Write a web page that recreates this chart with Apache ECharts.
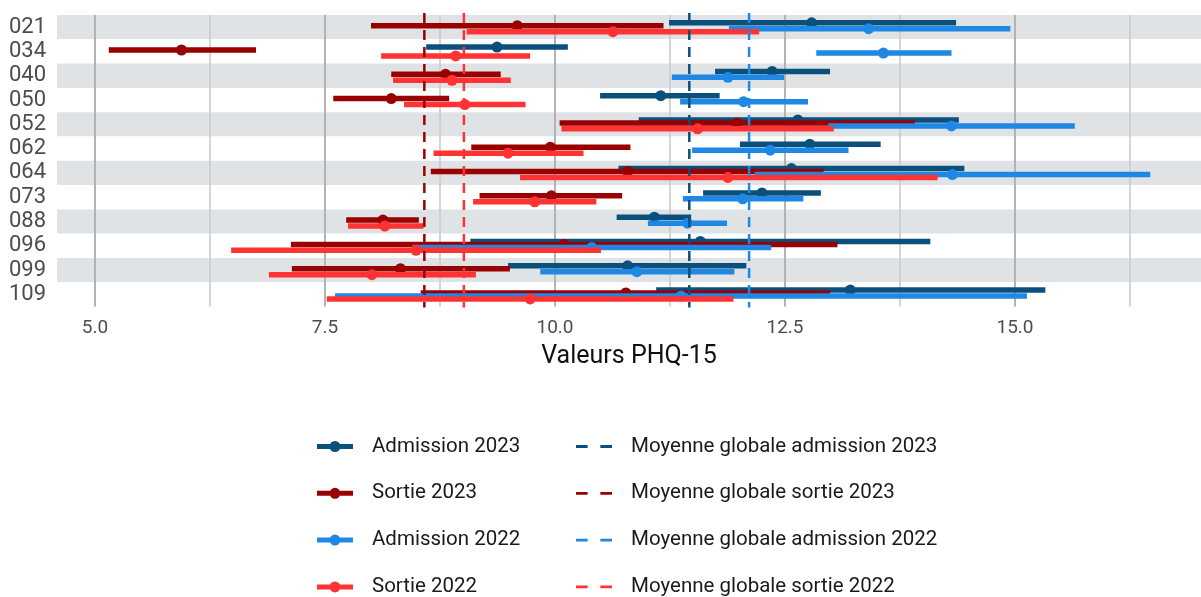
<!DOCTYPE html>
<html>
<head>
<meta charset="utf-8">
<script src="https://cdn.jsdelivr.net/npm/echarts@6/dist/echarts.min.js"></script>
<style>html,body{margin:0;padding:0;background:#fff}#c{width:1201px;height:597px}</style>
</head>
<body>
<div id="c"></div>
<script>
// ---- data ----
const categories = ['021','034','040','050','052','062','064','073','088','096','099','109'];
// [low, high, mean] per category
const admission2023 = [
  [11.24,14.36,12.79],[8.60,10.14,9.37],[11.74,12.99,12.36],[10.49,11.79,11.15],
  [10.91,14.39,12.64],[12.01,13.54,12.77],[10.69,14.45,12.57],[11.61,12.89,12.25],
  [10.67,11.48,11.08],[9.08,14.08,11.58],[9.49,12.08,10.79],[11.10,15.33,13.21]
];
const sortie2023 = [
  [8.00,11.18,9.59],[5.15,6.75,5.94],[8.22,9.41,8.81],[7.59,8.85,8.22],
  [10.05,13.91,11.98],[9.09,10.82,9.95],[8.65,12.92,10.79],[9.18,10.73,9.96],
  [7.73,8.52,8.13],[7.13,13.07,10.10],[7.14,9.51,8.32],[8.54,12.99,10.77]
];
const admission2022 = [
  [11.89,14.95,13.41],[12.84,14.31,13.57],[11.27,12.49,11.88],[11.36,12.75,12.05],
  [12.97,15.65,14.31],[11.49,13.19,12.34],[12.17,16.47,14.32],[11.39,12.70,12.04],
  [11.01,11.87,11.44],[8.45,12.35,10.40],[9.84,11.95,10.89],[7.61,15.13,11.37]
];
const sortie2022 = [
  [9.04,12.22,10.63],[8.11,9.73,8.92],[8.24,9.52,8.88],[8.36,9.68,9.02],
  [10.07,13.03,11.55],[8.68,10.31,9.49],[9.62,14.16,11.88],[9.11,10.45,9.78],
  [7.75,8.57,8.15],[6.48,10.50,8.49],[6.89,9.14,8.01],[7.52,11.94,9.73]
];
const overallMeans = [11.46, 8.58, 12.11, 9.01];
const seriesNames = ['Admission 2023','Sortie 2023','Admission 2022','Sortie 2022'];
const meanNames = ['Moyenne globale admission 2023','Moyenne globale sortie 2023','Moyenne globale admission 2022','Moyenne globale sortie 2022'];
const majorTicks = [5, 7.5, 10, 12.5, 15];
const minorTicks = [6.25, 8.75, 11.25, 13.75, 16.25];
const tickLabels = ['5.0','7.5','10.0','12.5','15.0'];
const axisTitle = 'Valeurs PHQ-15';

// ---- styles ----
const colors = ['#0b4f7d', '#990000', '#1e88e5', '#ff3333'];
const offsets = [-0.18, -0.06, 0.065, 0.185];
const FONT = 'Roboto';

function rangeRender(color, off) {
  return function (params, api) {
    const cat = api.value(3);
    const pLo = api.coord([api.value(0), cat]);
    const pHi = api.coord([api.value(1), cat]);
    const pM = api.coord([api.value(2), cat]);
    const band = api.size([0, 1])[1];
    const dy = band * off;
    return {
      type: 'group',
      children: [
        { type: 'line', shape: { x1: pLo[0], y1: pLo[1] + dy, x2: pHi[0], y2: pHi[1] + dy },
          style: { stroke: color, lineWidth: 5.5, lineCap: 'butt' } },
        { type: 'circle', shape: { cx: pM[0], cy: pM[1] + dy, r: 5.5 },
          style: { fill: color } }
      ]
    };
  };
}
function meanRender(color) {
  return function (params, api) {
    const x = api.coord([api.value(0), 0])[0];
    const cs = params.coordSys;
    return {
      type: 'line',
      shape: { x1: x, y1: cs.y - 2, x2: x, y2: cs.y + cs.height + 1 },
      style: { stroke: color, lineWidth: 2.5, lineDash: [10, 7] }
    };
  };
}

const allData = [admission2023, sortie2023, admission2022, sortie2022];
const series = [];
allData.forEach((arr, k) => {
  series.push({
    name: seriesNames[k],
    type: 'custom',
    renderItem: rangeRender(colors[k], offsets[k]),
    itemStyle: { color: colors[k] },
    encode: { x: [0, 1, 2], y: 3 },
    data: arr.map((d, i) => [d[0], d[1], d[2], categories[i]]),
    z: 3 + k,
    silent: true
  });
});
overallMeans.forEach((m, k) => {
  series.push({
    name: meanNames[k],
    type: 'custom',
    renderItem: meanRender(colors[k]),
    itemStyle: { color: colors[k] },
    encode: { x: 0, y: 1 },
    data: [[m, categories[0]]],
    z: 10,
    silent: true
  });
});

const dotIcon = 'path://M0,4 L13,4 L13,9 L0,9 Z M12.5,6.5 A5.5,5.5 0 1 1 23.5,6.5 A5.5,5.5 0 1 1 12.5,6.5 Z M23,4 L36,4 L36,9 L23,9 Z';
const dashIcon = 'path://M0,0 L11,0 L11,2.6 L0,2.6 Z M23,0 L34,0 L34,2.6 L23,2.6 Z';

const legendBase = {
  orient: 'vertical', top: 436, height: 190, itemWidth: 36, itemHeight: 13, itemGap: 25.8, padding: 0,
  selectedMode: false,
  textStyle: { fontFamily: FONT, fontSize: 20.5, color: '#1a1a1a', lineHeight: 20, padding: [0, 0, 0, 14] }
};

const option = {
  animation: false,
  backgroundColor: '#ffffff',
  grid: { left: 57, right: 0, top: 15, height: 291.6, containLabel: false },
  xAxis: [{
    type: 'value', min: 4.587, max: 17.022,
    axisLine: { show: false },
    axisTick: { show: false, customValues: majorTicks },
    axisLabel: { customValues: majorTicks, formatter: v => tickLabels[majorTicks.indexOf(v)] || '',
      fontFamily: FONT, fontSize: 19, color: '#4d4d4d', margin: 12 },
    splitLine: { show: true, lineStyle: { color: '#b3b3b3', width: 2 } },
    name: axisTitle, nameLocation: 'middle', nameGap: 38,
    nameTextStyle: { fontFamily: FONT, fontSize: 25, color: '#111' }
  }, {
    type: 'value', min: 4.587, max: 17.022, position: 'bottom',
    axisLine: { show: false },
    axisTick: { show: false, customValues: minorTicks },
    axisLabel: { show: false, customValues: minorTicks },
    splitLine: { show: true, lineStyle: { color: '#cbcbcb', width: 1.6 } }
  }],
  yAxis: {
    type: 'category', data: categories, inverse: true,
    axisLine: { show: false }, axisTick: { show: false },
    axisLabel: { interval: 0, fontFamily: FONT, fontSize: 22, color: '#4d4d4d', margin: 11 },
    splitLine: { show: false },
    splitArea: { show: true, interval: 0, areaStyle: { color: ['#e0e3e6', '#ffffff'] } }
  },
  legend: [
    Object.assign({}, legendBase, { left: 317,
      data: seriesNames.map((n, k) => ({ name: n, icon: dotIcon, itemStyle: { color: colors[k] } })) }),
    Object.assign({}, legendBase, { left: 576,
      data: meanNames.map((n, k) => ({ name: n, icon: dashIcon, itemStyle: { color: colors[k] } })) })
  ],
  series: series
};

const chart = echarts.init(document.getElementById('c'), null, { renderer: 'canvas' });
chart.setOption(option);
</script>
</body>
</html>
